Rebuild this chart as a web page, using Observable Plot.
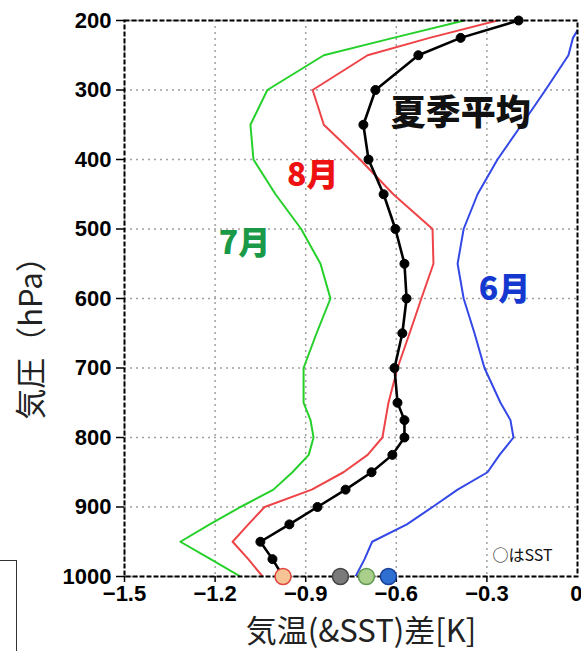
<!DOCTYPE html>
<html>
<head>
<meta charset="utf-8">
<script src="https://cdn.jsdelivr.net/npm/d3@7"></script>
<script src="https://cdn.jsdelivr.net/npm/@observablehq/plot@0.6"></script>
<style>
  html, body { margin: 0; padding: 0; background: #fff; }
  #wrap { position: relative; width: 581px; height: 651px; overflow: hidden; }
  #box { position: absolute; left: -4px; top: 560px; width: 19px; height: 120px; border: 1.5px solid #333; }
  g[aria-label="x-axis tick label"] text, g[aria-label="y-axis tick label"] text { font-weight: bold; }
</style>
</head>
<body>
<div id="wrap"><div id="box"></div></div>
<script>
// ---- data ----
const pressure = [200,225,250,300,350,400,450,500,550,600,650,700,750,775,800,825,850,875,900,925,950,975,1000];
const summerAvg = [-0.195,-0.387,-0.527,-0.669,-0.709,-0.692,-0.642,-0.603,-0.573,-0.566,-0.580,-0.606,-0.596,-0.573,-0.573,-0.613,-0.682,-0.768,-0.861,-0.954,-1.050,-1.010,-0.975];
const june   = [0.020,-0.015,-0.030,-0.106,-0.185,-0.265,-0.331,-0.377,-0.397,-0.377,-0.341,-0.308,-0.255,-0.222,-0.212,-0.258,-0.298,-0.397,-0.480,-0.565,-0.680,-0.705,-0.735];
const july   = [-0.375,-0.610,-0.840,-1.027,-1.083,-1.073,-1.000,-0.915,-0.851,-0.818,-0.864,-0.907,-0.907,-0.884,-0.874,-0.890,-0.944,-1.007,-1.116,-1.218,-1.315,-1.215,-1.116];
const august = [-0.265,-0.490,-0.695,-0.877,-0.840,-0.720,-0.610,-0.480,-0.477,-0.517,-0.556,-0.596,-0.626,-0.636,-0.646,-0.695,-0.775,-0.880,-1.036,-1.090,-1.142,-1.090,-1.043];
const sstNames = ["orange","gray","lightgreen","blue"];
const sstValues = [-0.975,-0.785,-0.699,-0.626];
const xTicks = [-1.5,-1.2,-0.9,-0.6,-0.3];
const xTickEnd = [0];
const yTicks = [200,300,400,500,600,700,800,900,1000];
const xLabel = "気温(&SST)差[K]";
const yLabel = "気圧（hPa）";
const sstNote = "○はSST";

// ---- build tables ----
const rows = (vals, series) => pressure.map((p, i) => ({p, t: vals[i], series}));
const lineJune = rows(june, "6月");
const lineJuly = rows(july, "7月");
const lineAug = rows(august, "8月");
const lineAvg = rows(summerAvg, "夏季平均");
const sst = sstNames.map((n, i) => ({name: n, t: sstValues[i], p: 1000}));

// annotation placement (data units)
const annotations = [
  {text: "夏季平均", t: -0.387, p: 334, color: "#111111", size: 35},
  {text: "8月", t: -0.877, p: 423, color: "#ee1111", size: 32},
  {text: "7月", t: -1.103, p: 521, color: "#1a9a48", size: 32},
  {text: "6月", t: -0.242, p: 588, color: "#1438d0", size: 32}
];
const sstStyle = {
  orange: {fill: "#f6c394", stroke: "#e0443c"},
  gray: {fill: "#7a7a7a", stroke: "#444444"},
  lightgreen: {fill: "#a9cf8a", stroke: "#5f9a50"},
  blue: {fill: "#2f6fd2", stroke: "#1b3f98"}
};

const fmt = d => d === 0 ? "0" : d.toFixed(1).replace("-", "\u2212");
const cjk = "'Noto Sans CJK JP', sans-serif";

const chart = Plot.plot({
  width: 581,
  height: 651,
  marginLeft: 124,
  marginRight: 4,
  marginTop: 20,
  marginBottom: 75,
  style: {background: "white", overflow: "visible", fontFamily: "'Liberation Sans', Arial, sans-serif"},
  x: {domain: [-1.5, 0]},
  y: {domain: [200, 1000], reverse: true},
  marks: [
    Plot.gridX(xTicks, {stroke: "#a0a0a0", strokeOpacity: 1, strokeDasharray: "2,4", strokeWidth: 1.5}),
    Plot.gridY(yTicks, {stroke: "#a0a0a0", strokeOpacity: 1, strokeDasharray: "2,4", strokeWidth: 1.5}),
    Plot.axisX({ticks: xTicks, tickFormat: fmt, tickSize: 6, tickPadding: 3, fontSize: 22, label: null, strokeWidth: 1.5}),
    Plot.axisX({ticks: xTickEnd, tickFormat: fmt, tickSize: 6, tickPadding: 3, fontSize: 22, label: null, strokeWidth: 1.5, textAnchor: "end", dx: 5}),
    Plot.axisY({ticks: yTicks, tickFormat: d => String(d), tickSize: 8, tickPadding: 5, fontSize: 22, label: null, strokeWidth: 1.5}),
    Plot.line(lineJuly, {x: "t", y: "p", stroke: "#26d02a", strokeWidth: 2, clip: true}),
    Plot.line(lineAug, {x: "t", y: "p", stroke: "#ee4448", strokeWidth: 2, clip: true}),
    Plot.line(lineJune, {x: "t", y: "p", stroke: "#3348e6", strokeWidth: 2, clip: true}),
    Plot.line(lineAvg, {x: "t", y: "p", stroke: "#000", strokeWidth: 2.6, clip: true}),
    Plot.dot(lineAvg, {x: "t", y: "p", r: 4.5, fill: "#000", stroke: "#000", strokeWidth: 1}),
    Plot.frame({stroke: "#000", strokeWidth: 2, strokeDasharray: "5,2"}),
    Plot.dot(sst, {x: "t", y: "p", r: 8, fill: d => sstStyle[d.name].fill, stroke: d => sstStyle[d.name].stroke, strokeWidth: 1.5}),
    ...annotations.map(a => Plot.text([a], {x: "t", y: "p", text: "text", fill: a.color, fontSize: a.size, fontWeight: 900, fontFamily: cjk})),
    Plot.text([sstNote], {x: () => -0.182, y: () => 971, fontSize: 16, fill: "#111", fontFamily: cjk}),
    Plot.text([xLabel], {frameAnchor: "bottom", textAnchor: "middle", dx: 10, dy: 56, lineAnchor: "middle", fontSize: 31, fill: "#222", fontFamily: cjk}),
    Plot.text([yLabel], {frameAnchor: "left", textAnchor: "middle", dx: -92, dy: 32, rotate: -90, lineAnchor: "middle", fontSize: 31, fill: "#222", fontFamily: cjk})
  ]
});
document.getElementById("wrap").prepend(chart);
</script>
</body>
</html>
